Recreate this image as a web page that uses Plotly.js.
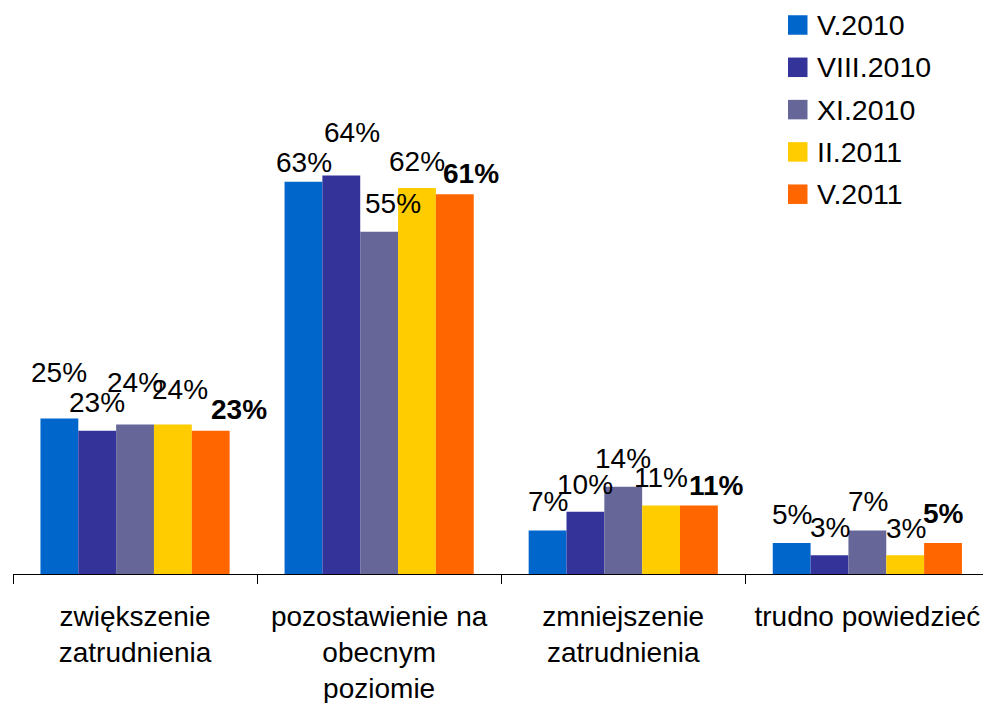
<!DOCTYPE html>
<html>
<head>
<meta charset="utf-8">
<script src="https://cdn.plot.ly/plotly-3.0.1.min.js"></script>
<style>html,body{margin:0;padding:0;background:#fff;}#chart{width:983px;height:703px;}</style>
</head>
<body>
<div id="chart"></div>
<script>
// ---- data ----
const categories = ["zwiększenie<br>zatrudnienia", "pozostawienie na<br>obecnym<br>poziomie", "zmniejszenie<br>zatrudnienia", "trudno powiedzieć"];
const seriesNames = ["V.2010", "VIII.2010", "XI.2010", "II.2011", "V.2011"];
const valuesV2010 = [25, 63, 7, 5];
const valuesVIII2010 = [23, 64, 10, 3];
const valuesXI2010 = [24, 55, 14, 7];
const valuesII2011 = [24, 62, 11, 3];
const valuesV2011 = [23, 61, 11, 5];

// ---- style ----
const colors = ["#0066CC", "#333399", "#666699", "#FFCC00", "#FF6600"];
const boldSeries = [false, false, false, false, true];
// manual label nudges (pixels) per series / category, as in the original
const labelDx = [[0, 1, 0, 0], [0, 11, 0, 0], [0, 14, 0, 1], [7, 0, 0, 1], [28, 16, 18, 0]];
const labelDy = [[18, -8.5, 0.5, 0.5], [0, 15.5, -1, 0], [14, 0.5, 0, 0.5], [7.5, -1, 0, -1], [-6.5, -7.5, -7.5, 1.5]];

const allValues = [valuesV2010, valuesVIII2010, valuesXI2010, valuesII2011, valuesV2011];
const FONT = "Liberation Sans, Arial, sans-serif";
const bargap = 0.225;
const nSeries = allValues.length;
const slot = (1 - bargap) / nSeries;

const traces = allValues.map((vals, i) => ({
  type: "bar",
  name: seriesNames[i],
  x: categories,
  y: vals,
  marker: {color: colors[i], line: {width: 0}},
  hoverinfo: "skip",
  showlegend: false
}));

const annotations = [];
allValues.forEach((vals, i) => {
  vals.forEach((v, j) => {
    const t = v + "%";
    annotations.push({
      xref: "x", yref: "y",
      x: j + (i - (nSeries - 1) / 2) * slot,
      y: v,
      text: boldSeries[i] ? "<b>" + t + "</b>" : t,
      showarrow: false,
      xanchor: "center", yanchor: "bottom",
      xshift: labelDx[i][j],
      yshift: 10.5 + labelDy[i][j],
      font: {family: FONT, size: 28, color: "#000"}
    });
  });
});

// manual legend (square swatches as in the original)
const plotL = 13, plotW = 970, plotT = 76, plotH = 498;
const pxX = px => (px - plotL) / plotW;
const pxY = py => (plotT + plotH - py) / plotH;
const legLeft = 788, legTextX = 815, legTop = 25, legStep = 42.3, sw = 19.5;
const shapes = [];
seriesNames.forEach((name, i) => {
  const cy = legTop + i * legStep;
  shapes.push({
    type: "rect", xref: "paper", yref: "paper",
    x0: pxX(legLeft), x1: pxX(legLeft + sw),
    y0: pxY(cy + sw / 2), y1: pxY(cy - sw / 2),
    fillcolor: colors[i], line: {width: 0}
  });
  annotations.push({
    xref: "paper", yref: "paper",
    x: pxX(legTextX), y: pxY(cy),
    xanchor: "left", yanchor: "middle",
    text: name, showarrow: false,
    font: {family: FONT, size: 28.5, color: "#000"}
  });
});

const layout = {
  width: 983, height: 703,
  margin: {l: plotL, r: 0, t: plotT, b: 703 - plotT - plotH},
  paper_bgcolor: "#fff", plot_bgcolor: "#fff",
  barmode: "group", bargap: bargap, bargroupgap: 0,
  showlegend: false,
  font: {family: FONT, size: 28, color: "#000"},
  xaxis: {
    type: "category",
    range: [-0.5, -0.5 + plotW / 244.1],
    showgrid: false, zeroline: false,
    showline: true, linecolor: "#000", linewidth: 1,
    ticks: "outside", tickson: "boundaries", ticklen: 9, tickcolor: "#000", tickwidth: 1,
    ticklabelstandoff: 17,
    tickfont: {family: FONT, size: 28, color: "#000"},
    fixedrange: true
  },
  yaxis: {range: [0, 80], visible: false, fixedrange: true},
  annotations: annotations,
  shapes: shapes
};

Plotly.newPlot("chart", traces, layout, {displayModeBar: false, staticPlot: true});
</script>
</body>
</html>
